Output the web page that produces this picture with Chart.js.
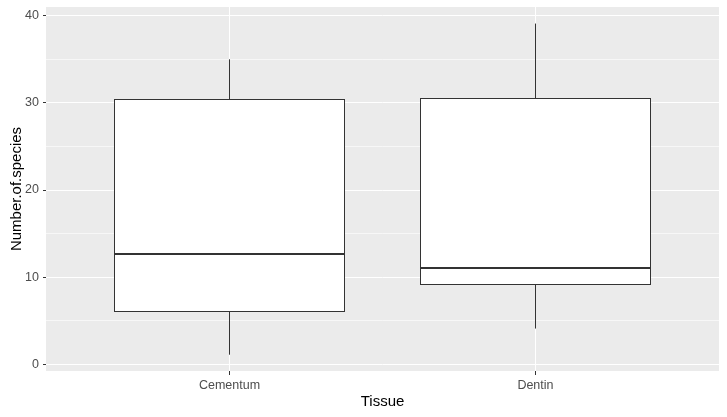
<!DOCTYPE html>
<html>
<head>
<meta charset="utf-8">
<script src="https://cdn.jsdelivr.net/npm/chart.js@4/dist/chart.umd.min.js"></script>
<style>
  html, body { margin: 0; padding: 0; background: #ffffff; }
  #wrap { width: 727px; height: 417px; position: relative; }
</style>
</head>
<body>
<div id="wrap"><canvas id="c" width="727" height="417"></canvas></div>
<script>
// ---- data ----
const categories = ['Cementum', 'Dentin'];
const whiskerLow  = [1.1, 4.1];
const q1          = [6.1, 9.1];
const median      = [12.65, 11.05];
const q3          = [30.35, 30.5];
const whiskerHigh = [35.0, 39.1];
const yMajorTicks = [0, 10, 20, 30, 40];
const yMinorTicks = [5, 15, 25, 35];
const xTitle = 'Tissue';
const yTitle = 'Number.of.species';

Chart.defaults.font.family = '"Liberation Sans", Arial, sans-serif';

const isMajor = v => yMajorTicks.includes(v);
const crisp = p => Math.round(p - 0.5) + 0.5;

const panelBg = {
  id: 'panelBg',
  beforeDraw(chart) {
    const { ctx, chartArea: a } = chart;
    ctx.save();
    ctx.fillStyle = '#EBEBEB';
    ctx.fillRect(a.left, a.top, a.right - a.left, a.bottom - a.top);
    ctx.restore();
  }
};

// whiskers drawn under the boxes, from the scales
const whiskers = {
  id: 'whiskers',
  beforeDatasetsDraw(chart) {
    const { ctx, scales: { x, y } } = chart;
    ctx.save();
    ctx.strokeStyle = '#333333';
    ctx.lineWidth = 1;
    categories.forEach((c, i) => {
      const px = crisp(x.getPixelForValue(i + 1));
      ctx.beginPath();
      ctx.moveTo(px, y.getPixelForValue(whiskerHigh[i]));
      ctx.lineTo(px, y.getPixelForValue(whiskerLow[i]));
      ctx.stroke();
    });
    ctx.restore();
  }
};

// box outline and median line, positioned from the box bar elements and the y scale
const boxDetails = {
  id: 'boxDetails',
  afterDatasetsDraw(chart) {
    const meta = chart.getDatasetMeta(0);
    const y = chart.scales.y;
    const ctx = chart.ctx;
    ctx.save();
    ctx.strokeStyle = '#333333';
    meta.data.forEach((el, i) => {
      const half = el.width / 2;
      const l = crisp(el.x - half), r = crisp(el.x + half);
      const t = crisp(y.getPixelForValue(q3[i])), b = crisp(y.getPixelForValue(q1[i]));
      ctx.lineWidth = 1;
      ctx.strokeRect(l, t, r - l, b - t);
      const py = Math.round(y.getPixelForValue(median[i]));
      ctx.lineWidth = 2;
      ctx.beginPath();
      ctx.moveTo(l, py);
      ctx.lineTo(r, py);
      ctx.stroke();
    });
    ctx.restore();
  }
};

new Chart(document.getElementById('c'), {
  type: 'bar',
  data: {
    datasets: [
      {
        label: 'box',
        data: categories.map((c, i) => ({ x: i + 1, y: [q1[i], q3[i]] })),
        backgroundColor: '#FFFFFF',
        borderWidth: 0,
        categoryPercentage: 1,
        barPercentage: 0.75,
        grouped: false
      }
    ]
  },
  options: {
    responsive: false,
    animation: false,
    events: [],
    layout: { padding: { top: 7, right: 8, left: 0, bottom: 0 } },
    plugins: { legend: { display: false }, tooltip: { enabled: false } },
    scales: {
      x: {
        type: 'linear',
        min: 0.4,
        max: 2.6,
        offset: false,
        afterBuildTicks(scale) { scale.ticks = categories.map((c, i) => ({ value: i + 1 })); },
        afterFit(scale) { scale.height = 46; scale.paddingLeft = 0; scale.paddingRight = 0; },
        ticks: {
          callback: v => categories[Math.round(v) - 1] || '',
          color: '#4D4D4D',
          font: { size: 12.5 },
          padding: 3,
          maxRotation: 0,
          autoSkip: false
        },
        grid: {
          offset: false,
          color: '#FFFFFF',
          lineWidth: 1,
          tickColor: '#333333',
          tickLength: 4,
          drawTicks: true
        },
        border: { display: false },
        title: {
          display: true,
          text: xTitle,
          color: '#000000',
          font: { size: 15 },
          padding: { top: 0, bottom: 6 }
        }
      },
      y: {
        type: 'linear',
        min: -0.77,
        max: 41.0,
        afterBuildTicks(scale) {
          scale.ticks = [...yMajorTicks, ...yMinorTicks].sort((a, b) => a - b).map(v => ({ value: v }));
        },
        afterFit(scale) { scale.width = 46; scale.paddingTop = 0; scale.paddingBottom = 0; },
        ticks: {
          callback: v => (isMajor(v) ? String(v) : ''),
          color: '#4D4D4D',
          font: { size: 12.5 },
          padding: 4,
          autoSkip: false
        },
        grid: {
          color: '#FFFFFF',
          lineWidth: ctx => (ctx.tick && isMajor(ctx.tick.value) ? 1 : 0.6),
          tickColor: ctx => (ctx.tick && isMajor(ctx.tick.value) ? '#333333' : 'rgba(0,0,0,0)'),
          tickLength: 3,
          drawTicks: true
        },
        border: { display: false },
        title: {
          display: true,
          text: yTitle,
          color: '#000000',
          font: { size: 15 },
          padding: { top: 8, bottom: 0 }
        }
      }
    }
  },
  plugins: [panelBg, whiskers, boxDetails]
});
</script>
</body>
</html>
